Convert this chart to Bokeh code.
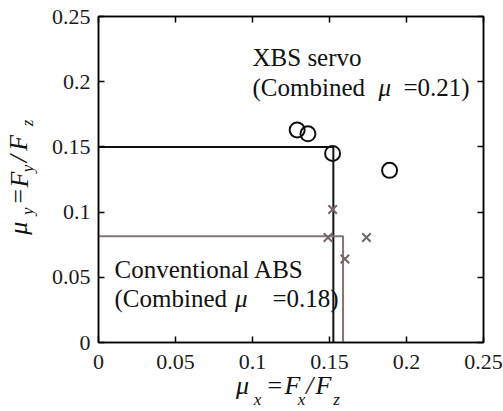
from bokeh.plotting import figure
from bokeh.models import Range1d, LinearAxis, FixedTicker, Label
from bokeh.embed import file_html
from bokeh.resources import INLINE

# ---- data ----
servo_mux = [0.129, 0.136, 0.152, 0.189]
servo_muy = [0.163, 0.160, 0.145, 0.132]
abs_mux = [0.152, 0.149, 0.174, 0.160]
abs_muy = [0.102, 0.0805, 0.0805, 0.064]
servo_limit_mux = 0.1525
servo_limit_muy = 0.150
abs_limit_mux = 0.1588
abs_limit_muy = 0.0815
ticks = [0, 0.05, 0.1, 0.15, 0.2, 0.25]
tick_labels = ["0", "0.05", "0.1", "0.15", "0.2", "0.25"]

# axis-title pieces (text, pixel centre in the picture)
xlab_main = [("μ", 242), ("=", 274), ("F", 292), ("/", 309), ("F", 323)]
xlab_sub = [("x", 257), ("x", 301), ("z", 336)]
ylab_main = [("μ", 229), ("=", 197), ("F", 180), ("/", 159), ("F", 143)]
ylab_sub = [("y", 212), ("y", 169), ("z", 123)]

FONT = "Liberation Serif"
GRAY = "#857474"
FL, FR, FT, FB = 98, 483, 16, 344   # frame edges in the picture

p = figure(width=503, height=411,
           x_range=Range1d(0, 0.25), y_range=Range1d(0, 0.25),
           output_backend="svg", toolbar_location=None,
           min_border_left=FL, min_border_right=503 - FR,
           min_border_top=FT, min_border_bottom=411 - FB)
p.grid.visible = False
p.outline_line_color = "black"
p.outline_line_width = 1.5
p.background_fill_color = "white"
p.border_fill_color = "white"

overrides = {t: l for t, l in zip(ticks, tick_labels)}
for ax in (p.xaxis[0], p.yaxis[0]):
    ax.ticker = FixedTicker(ticks=ticks)
    ax.major_label_overrides = overrides
    ax.major_tick_in = 6
    ax.major_tick_out = 0
    ax.minor_tick_line_color = None
    ax.axis_line_width = 1.5
    ax.axis_line_color = "black"
    ax.major_tick_line_width = 1.5
    ax.major_label_text_font = FONT
    ax.major_label_text_font_size = "22px"
    ax.major_label_text_color = "#1a1a1a"
p.xaxis[0].major_label_standoff = 12
p.yaxis[0].major_label_standoff = 8

for loc in ("right", "above"):
    ax = LinearAxis(ticker=FixedTicker(ticks=ticks), major_tick_in=6, major_tick_out=0,
                    minor_tick_line_color=None, axis_line_width=1.5, major_tick_line_width=1.5,
                    major_label_text_alpha=0, major_label_text_font_size="1px",
                    major_label_standoff=0)
    p.add_layout(ax, loc)

# axis titles built as label-only axes
xpx = lambda X: round((X - FL) / (FR - FL) * 0.25, 5)
ypx = lambda Y: round((FB - Y) / (FB - FT) * 0.25, 5)

def title_axis(loc, pieces, conv, size, standoff, orient="horizontal"):
    pos = [conv(c) for _, c in pieces]
    ax = LinearAxis(ticker=FixedTicker(ticks=pos),
                    major_label_overrides={v: t for v, (t, _) in zip(pos, pieces)},
                    axis_line_color=None, major_tick_line_color=None,
                    minor_tick_line_color=None, major_tick_in=0, major_tick_out=0,
                    major_label_text_font=FONT, major_label_text_font_style="italic",
                    major_label_text_font_size=size, major_label_text_color="#111111",
                    major_label_standoff=standoff, major_label_orientation=orient)
    p.add_layout(ax, loc)

title_axis("below", xlab_main, xpx, "26px", -1)
title_axis("below", xlab_sub, xpx, "17px", -13)
title_axis("left", ylab_sub, ypx, "17px", 11, "parallel")
title_axis("left", ylab_main, ypx, "26px", -18, "parallel")

# envelopes
p.line([0, servo_limit_mux, servo_limit_mux], [servo_limit_muy, servo_limit_muy, 0],
       line_color="#111111", line_width=2)
p.line([0, abs_limit_mux, abs_limit_mux], [abs_limit_muy, abs_limit_muy, 0],
       line_color=GRAY, line_width=2)

# points
p.scatter(servo_mux, servo_muy, marker="circle", size=15, fill_color=None,
          line_color="#111111", line_width=2)
p.scatter(abs_mux, abs_muy, marker="x", size=12, line_color="#766565", line_width=2)

# annotations (data units)
def lab(x, y, text, size="25px", style="normal"):
    p.add_layout(Label(x=x, y=y, text=text, text_font=FONT, text_font_size=size,
                       text_font_style=style, text_color="#111111",
                       text_align="left", text_baseline="alphabetic"))

lab(0.1, 0.2185, "XBS servo")
lab(0.1, 0.1956, "(Combined")
lab(0.1818, 0.1956, "μ", style="italic")
lab(0.198, 0.1956, "=0.21)")
lab(0.0104, 0.0563, "Conventional ABS")
lab(0.0104, 0.0335, "(Combined")
lab(0.0886, 0.0335, "μ", style="italic")
lab(0.113, 0.0335, "=0.18)")

open("out.html", "w").write(file_html(p, INLINE))
